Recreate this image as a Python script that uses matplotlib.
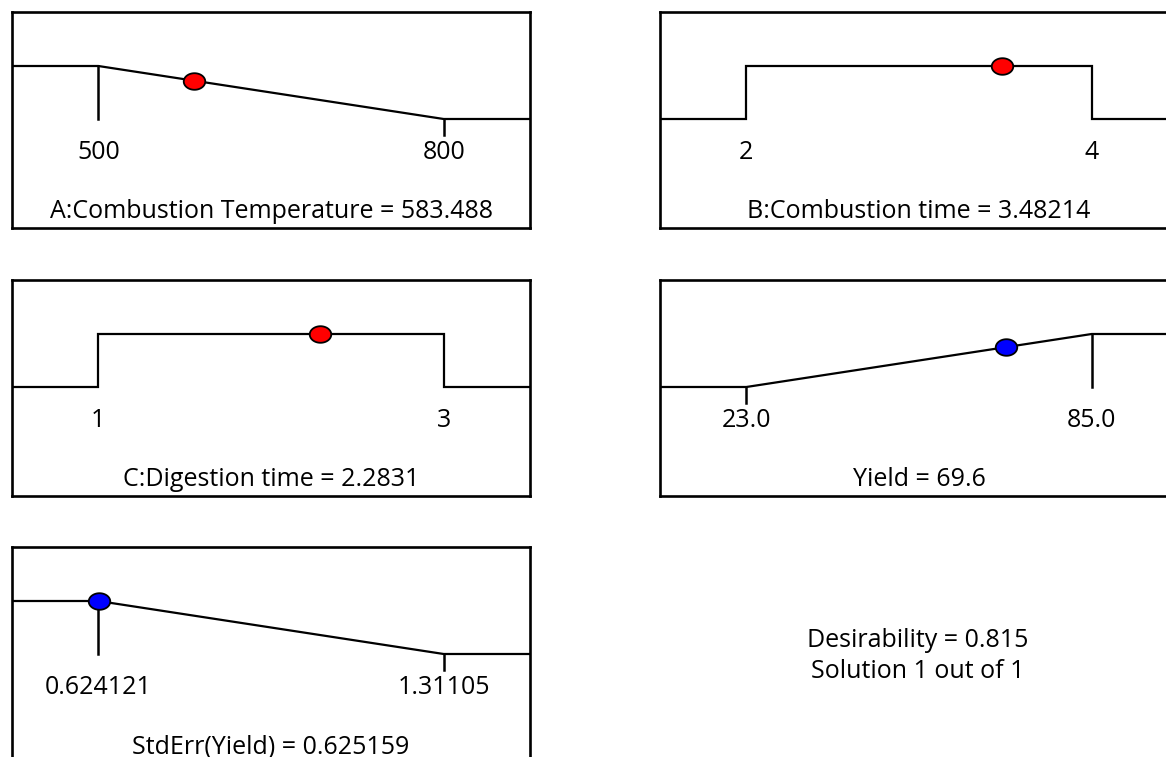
import numpy as np
import matplotlib
matplotlib.use("Agg")
import matplotlib.pyplot as plt
from matplotlib.path import Path

plt.rcParams['font.family'] = ['Open Sans', 'DejaVu Sans']

# ---- data ----
names = ["A:Combustion Temperature", "B:Combustion time", "C:Digestion time",
         "Yield", "StdErr(Yield)"]
lows = [500.0, 2.0, 1.0, 23.0, 0.624121]
highs = [800.0, 4.0, 3.0, 85.0, 1.31105]
low_labels = ["500", "2", "1", "23.0", "0.624121"]
high_labels = ["800", "4", "3", "85.0", "1.31105"]
values = [583.488, 3.48214, 2.2831, 69.6, 0.625159]
value_labels = ["583.488", "3.48214", "2.2831", "69.6", "0.625159"]
goals = ["minimize", "in range", "in range", "maximize", "minimize"]
dot_colors = ["#ff0000", "#ff0000", "#ff0000", "#0000ff", "#0000ff"]
desirability_text = "Desirability = 0.815"
solution_text = "Solution 1 out of 1"

W, H = 1166, 757
fig = plt.figure(figsize=(W / 100, H / 100), dpi=100)

# panel boxes in pixels: (left, top)
box_w, box_h = 518, 216
boxes = [(12, 12), (660, 12), (12, 280), (660, 280), (12, 547)]

# ellipse marker
t = np.linspace(0, 2 * np.pi, 60)
ell = Path(np.column_stack([np.cos(t), 0.77 * np.sin(t)]), closed=True)


def desir(goal, x, lo, hi):
    if goal == "minimize":
        return float(np.clip((hi - x) / (hi - lo), 0, 1))
    if goal == "maximize":
        return float(np.clip((x - lo) / (hi - lo), 0, 1))
    return 1.0 if lo <= x <= hi else 0.0


FS = 18
for i, (l, tp) in enumerate(boxes):
    ax = fig.add_axes([l / W, 1 - (tp + box_h) / H, box_w / W, box_h / H])
    lo, hi = lows[i], highs[i]
    r = hi - lo
    xmin, xmax = lo - 0.25 * r, hi + 0.25 * r
    g = goals[i]
    if g == "minimize":
        xs, ys = [xmin, lo, hi, xmax], [1, 1, 0, 0]
    elif g == "maximize":
        xs, ys = [xmin, lo, hi, xmax], [0, 0, 1, 1]
    else:
        xs, ys = [xmin, lo, lo, hi, hi, xmax], [0, 0, 1, 1, 0, 0]
    ax.plot(xs, ys, color="black", lw=1.6, solid_joinstyle="miter", zorder=2)
    if g != "in range":
        for xv in (lo, hi):
            d = desir(g, xv, lo, hi)
            bottom = 0.0 if d >= 1 else -0.3
            ax.plot([xv, xv], [d, bottom], color="black", lw=1.8, zorder=2)
    ax.text(lo, -0.755, low_labels[i], ha="center", va="baseline", fontsize=FS)
    ax.text(hi, -0.755, high_labels[i], ha="center", va="baseline", fontsize=FS)
    ax.text((xmin + xmax) / 2, -1.87, f"{names[i]} = {value_labels[i]}",
            ha="center", va="baseline", fontsize=FS)
    dv = desir(g, values[i], lo, hi)
    ax.plot([values[i]], [dv], marker=ell, markersize=15.5, markerfacecolor=dot_colors[i],
            markeredgecolor="black", markeredgewidth=1.3, linestyle="none", zorder=3)
    ax.set_xlim(xmin, xmax)
    ax.set_ylim(-2.057, 2.019)
    ax.set_xticks([])
    ax.set_yticks([])
    for s in ax.spines.values():
        s.set_linewidth(1.9)
        s.set_color("black")

fig.text(918 / W, 1 - 647 / H, desirability_text, ha="center", va="baseline", fontsize=FS)
fig.text(918 / W, 1 - 678 / H, solution_text, ha="center", va="baseline", fontsize=FS)

fig.savefig("out.png", dpi=100, facecolor="white")
